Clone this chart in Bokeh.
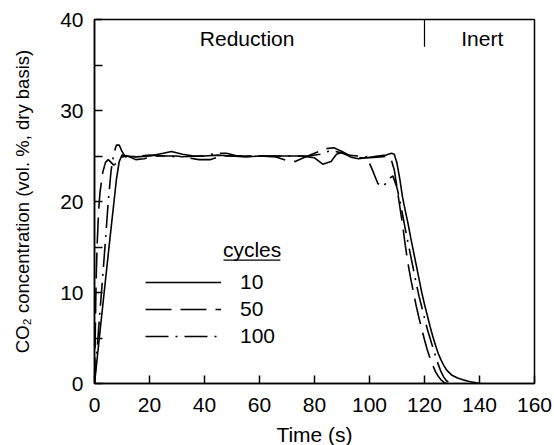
from bokeh.plotting import figure
from bokeh.models import (ColumnDataSource, Legend, LegendItem, Label, BoxAnnotation,
                          FixedTicker, Range1d)
from bokeh.embed import file_html
from bokeh.resources import INLINE

# ---- data ----
t_10 = [0, 2, 4, 6, 8, 9, 10, 12, 15, 20, 25, 28, 32, 36, 40, 45, 50, 55, 60, 65, 70, 75,
        80, 83, 86, 88, 90, 93, 96, 99, 103, 106, 108, 109, 110, 111, 112, 113, 114, 115,
        116, 117, 118, 119, 120, 121, 122, 123, 124, 125, 126, 127, 128, 130, 132, 134,
        136, 138, 140]
co2_10 = [0, 5.7, 11.4, 17.0, 22.5, 24.4, 25.1, 25.0, 24.9, 25.0, 25.3, 25.5, 25.2, 25.0,
          25.0, 25.1, 25.0, 24.9, 25.0, 25.0, 25.0, 25.0, 24.8, 24.1, 24.4, 25.2, 25.4,
          24.9, 24.7, 24.8, 25.0, 25.1, 25.3, 25.2, 24.2, 22.5, 20.5, 19.0, 17.6, 16.0,
          14.5, 13.0, 11.5, 10.0, 8.7, 7.5, 6.3, 5.2, 4.2, 3.3, 2.6, 2.0, 1.5, 0.9, 0.6,
          0.4, 0.25, 0.12, 0]

t_50 = [0, 0.3, 0.6, 1, 1.5, 2, 3, 4, 5, 6, 7, 8, 9, 10, 12, 15, 18, 22, 30, 38, 42, 46,
        50, 60, 66, 70, 73, 76, 80, 84, 87, 90, 93, 96, 100, 104, 107, 108, 109, 110, 111,
        112, 113, 114, 115, 116, 117, 118, 119, 120, 121, 122, 123, 124, 125, 126, 127, 128]
co2_50 = [0, 6.0, 11.5, 15.5, 19.0, 21.0, 23.2, 24.3, 24.6, 24.3, 24.0, 24.2, 24.6, 24.9,
          25.0, 24.6, 24.7, 25.0, 25.0, 24.6, 24.6, 25.0, 25.0, 25.0, 24.9, 24.5, 24.4,
          24.8, 25.3, 25.8, 25.9, 25.5, 25.0, 24.8, 24.8, 24.9, 25.0, 24.5, 23.5, 21.5,
          19.5, 17.5, 15.2, 13.2, 11.5, 10.0, 8.5, 7.2, 6.0, 4.8, 3.7, 2.8, 2.0, 1.3, 0.8,
          0.4, 0.15, 0]

t_100 = [0, 1, 2, 3, 4, 5, 6, 7, 8, 9, 10, 11, 12, 16, 20, 26, 30, 40, 44, 48, 52, 60, 70,
         78, 82, 86, 89, 92, 96, 99, 101, 103, 104.5, 106, 107.5, 108.5, 110, 111, 112,
         113, 114, 115, 116, 117, 118, 119, 120, 121, 122, 123, 124, 125, 126, 127, 128,
         129, 130]
co2_100 = [0, 4.0, 8.0, 11.8, 15.8, 20.0, 23.3, 25.3, 26.2, 26.2, 25.5, 25.0, 24.8, 25.0,
           25.1, 25.0, 24.9, 25.0, 25.3, 25.3, 25.0, 25.0, 25.0, 25.0, 25.2, 25.6, 25.4,
           25.1, 25.0, 24.9, 23.5, 22.0, 21.6, 22.0, 22.6, 22.8, 21.5, 20.2, 18.6, 17.0,
           15.5, 14.0, 12.5, 11.0, 9.6, 8.4, 7.2, 6.0, 5.0, 4.0, 3.0, 2.1, 1.3, 0.7, 0.3,
           0.1, 0]

cycle_labels = ["10", "50", "100"]
x_ticks = [0, 20, 40, 60, 80, 100, 120, 140, 160]
y_ticks = [0, 10, 20, 30, 40]
y_minor_ticks = [5, 15, 25, 35]
phase_boundary = 120
phase_names = ["Reduction", "Inert"]
phase_label_x = [55.5, 141]

FONT = "Liberation Sans"
FS = "21px"
FS_Y = "18.5px"

p = figure(frame_width=440, frame_height=364, output_backend="svg", toolbar_location=None,
           x_range=Range1d(0, 160), y_range=Range1d(0, 40),
           min_border_left=94, min_border_right=20, min_border_top=19, min_border_bottom=60,
           background_fill_color="white", border_fill_color="white")
p.xgrid.visible = False
p.ygrid.visible = False
p.outline_line_color = "black"
p.outline_line_width = 1.5

s10 = ColumnDataSource(dict(t=t_10, c=co2_10))
s50 = ColumnDataSource(dict(t=t_50, c=co2_50))
s100 = ColumnDataSource(dict(t=t_100, c=co2_100))
r10 = p.line("t", "c", source=s10, line_color="black", line_width=1.6)
r50 = p.line("t", "c", source=s50, line_color="black", line_width=1.6, line_dash="26 9")
r100 = p.line("t", "c", source=s100, line_color="black", line_width=1.6, line_dash="23 7 2 7")

# phase divider
p.segment(x0=[phase_boundary], y0=[37.0], x1=[phase_boundary], y1=[40],
          line_color="black", line_width=1.2)
for name, xc in zip(phase_names, phase_label_x):
    p.add_layout(Label(x=xc, y=37.9, text=name, text_align="center",
                       text_baseline="middle", text_font=FONT, text_font_size=FS,
                       text_color="black"))

# axes
xa = p.xaxis[0]
xa.ticker = FixedTicker(ticks=x_ticks)
xa.axis_label = "Time (s)"
ya = p.yaxis[0]
ya.ticker = FixedTicker(ticks=y_ticks, minor_ticks=y_minor_ticks)
ya.axis_label = "CO\u2082 concentration (vol. %, dry basis)"
for ax in (xa, ya):
    ax.axis_line_color = "black"
    ax.axis_line_width = 1.5
    ax.major_tick_in = 8
    ax.major_tick_out = 0
    ax.major_tick_line_width = 1.5
    ax.major_tick_line_color = "black"
    ax.major_label_text_font = FONT
    ax.major_label_text_font_size = FS
    ax.major_label_text_color = "black"
    ax.axis_label_text_font = FONT
    ax.axis_label_text_font_style = "normal"
    ax.axis_label_text_color = "black"
xa.axis_label_text_font_size = FS
ya.axis_label_text_font_size = FS_Y
xa.minor_tick_line_color = None
ya.minor_tick_in = 8
ya.minor_tick_out = 0
ya.minor_tick_line_width = 1.5
ya.minor_tick_line_color = "black"
xa.major_label_standoff = 14
xa.axis_label_standoff = 8
ya.major_label_standoff = 11
ya.axis_label_standoff = 24

# legend
legend = Legend(items=[LegendItem(label=cycle_labels[0], renderers=[r10]),
                       LegendItem(label=cycle_labels[1], renderers=[r50]),
                       LegendItem(label=cycle_labels[2], renderers=[r100])],
                location=(51, 35), glyph_width=76, glyph_height=20, label_height=20,
                label_width=30, label_standoff=19, spacing=3, padding=0, margin=0,
                border_line_color=None, background_fill_alpha=0,
                label_text_font=FONT, label_text_font_size=FS, label_text_color="black")
p.add_layout(legend)
p.add_layout(Label(x=57.3, y=14.7, text="cycles", text_align="center",
                   text_baseline="middle", text_font=FONT, text_font_size=FS,
                   text_color="black"))
p.add_layout(BoxAnnotation(left=46.9, right=67.6, top=13.64, bottom=13.5,
                           fill_color="black", fill_alpha=1, line_color=None))

open("out.html", "w").write(file_html(p, INLINE))
